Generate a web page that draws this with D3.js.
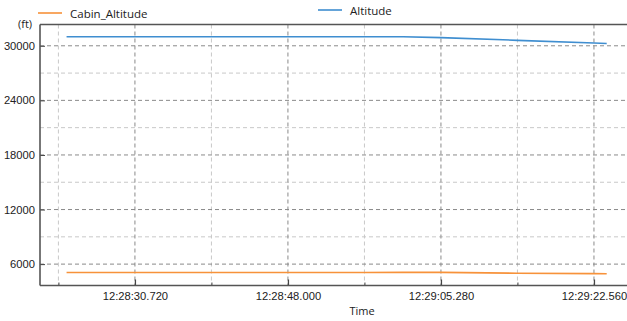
<!DOCTYPE html>
<html><head><meta charset="utf-8">
<script src="https://cdn.jsdelivr.net/npm/d3@7"></script>
<style>
html,body{margin:0;padding:0;background:#fff;overflow:hidden;}
svg{display:block;font-family:"Open Sans","Noto Sans",sans-serif;}
</style></head><body>
<svg id="c" width="627" height="321"></svg>
<script>
// ---- data ----
const times = ["12:28:23.000","12:28:39.360","12:28:56.640","12:29:01.000","12:29:05.280","12:29:13.920","12:29:22.560","12:29:24.000"];
const altitude = [31000, 31000, 31000, 30990, 30900, 30600, 30300, 30250];
const cabinAltitude = [5080, 5080, 5080, 5090, 5090, 5000, 4950, 4940];
const yTicks = [6000, 12000, 18000, 24000, 30000];
const xTickLabels = ["12:28:30.720","12:28:48.000","12:29:05.280","12:29:22.560"];
const seriesNames = ["Cabin_Altitude", "Altitude"];

const parse = s => { const [h,m,sec] = s.split(":"); return +h*3600 + +m*60 + +sec; };
const svg = d3.select("#c");
const L = 40, T = 24.5, B = 285.5, R = 640;
const x = d3.scaleLinear().domain([parse("12:28:20.000"), parse("12:29:27.760")]).range([L, R]);
const y = d3.scaleLinear().domain([3650, 32340]).range([B, T]);

const xMajor = xTickLabels.map(parse);
const step = xMajor[1]-xMajor[0];
const xMinor = [xMajor[0]-step/2, ...xMajor.map(v=>v+step/2)];
const yMinor = [...yTicks.map(v=>v-3000), 30000+3000].filter(v=>v>y.domain()[0] && v<y.domain()[1]);

const g = svg.append("g");
// minor grid
g.selectAll(".xm").data(xMinor).join("line")
  .attr("x1",d=>x(d)).attr("x2",d=>x(d)).attr("y1",T).attr("y2",B)
  .attr("stroke","#c8c8c8").attr("stroke-dasharray","4,3").attr("stroke-width",1);
g.selectAll(".ym").data(yMinor).join("line")
  .attr("x1",L).attr("x2",R).attr("y1",d=>y(d)).attr("y2",d=>y(d))
  .attr("stroke","#c8c8c8").attr("stroke-dasharray","4,3").attr("stroke-width",1);
// major grid
g.selectAll(".xM").data(xMajor).join("line")
  .attr("x1",d=>x(d)).attr("x2",d=>x(d)).attr("y1",T).attr("y2",B)
  .attr("stroke","#8a8a8a").attr("stroke-dasharray","4,3").attr("stroke-width",1);
g.selectAll(".yM").data(yTicks).join("line")
  .attr("x1",L).attr("x2",R).attr("y1",d=>y(d)).attr("y2",d=>y(d))
  .attr("stroke","#8a8a8a").attr("stroke-dasharray","4,3").attr("stroke-width",1);

// lines
const line = arr => d3.line().x((d,i)=>x(parse(times[i]))).y(d=>y(d))(arr);
svg.append("path").attr("d",line(altitude)).attr("fill","none").attr("stroke","#3f8ed0").attr("stroke-width",1.6);
svg.append("path").attr("d",line(cabinAltitude)).attr("fill","none").attr("stroke","#f7923a").attr("stroke-width",1.6);

// axes
const xAxis = d3.axisBottom(x).tickValues(xMajor).tickSize(-6).tickPadding(7)
  .tickFormat((d,i)=>xTickLabels[i]);
const xa = svg.append("g").attr("transform",`translate(0,${B})`).call(xAxis);
xa.select(".domain").remove();
xa.selectAll(".tick line").attr("stroke","#444").attr("stroke-width",1.3);
xa.selectAll("text").attr("font-size",11.2).attr("fill","#222");
svg.append("g").attr("transform",`translate(0,${B})`)
  .call(d3.axisBottom(x).tickValues(xMinor).tickSize(-3).tickFormat(""))
  .call(s=>{s.select(".domain").remove(); s.selectAll("line").attr("stroke","#444");});

const yAxis = d3.axisLeft(y).tickValues(yTicks).tickSize(-5).tickPadding(5).tickFormat(d3.format("d"));
const ya = svg.append("g").attr("transform",`translate(${L},0)`).call(yAxis);
ya.select(".domain").remove();
ya.selectAll(".tick line").attr("stroke","#444");
ya.selectAll("text").attr("font-size",11.2).attr("fill","#222");

// frame
svg.append("line").attr("x1",L).attr("x2",L).attr("y1",T).attr("y2",B).attr("stroke","#555").attr("stroke-width",1.6);
svg.append("line").attr("x1",L).attr("x2",R).attr("y1",B).attr("y2",B).attr("stroke","#555").attr("stroke-width",1.6);
svg.append("line").attr("x1",L).attr("x2",R).attr("y1",T).attr("y2",T).attr("stroke","#555").attr("stroke-width",1.6);

// labels
svg.append("text").attr("x",18).attr("y",28).attr("font-size",11).attr("fill","#222").text("(ft)");
svg.append("text").attr("x",362).attr("y",315).attr("text-anchor","middle").attr("font-size",11).attr("fill","#222").text("Time");

// legend
const leg = [{name:seriesNames[0], c:"#f7923a", x:38, y:13},{name:seriesNames[1], c:"#3f8ed0", x:318, y:10}];
leg.forEach(l=>{
  svg.append("line").attr("x1",l.x).attr("x2",l.x+24).attr("y1",l.y).attr("y2",l.y).attr("stroke",l.c).attr("stroke-width",1.6);
  svg.append("text").attr("x",l.x+32).attr("y",l.y+4.5).attr("font-size",11.5).attr("fill","#222").text(l.name);
});
</script></body></html>
